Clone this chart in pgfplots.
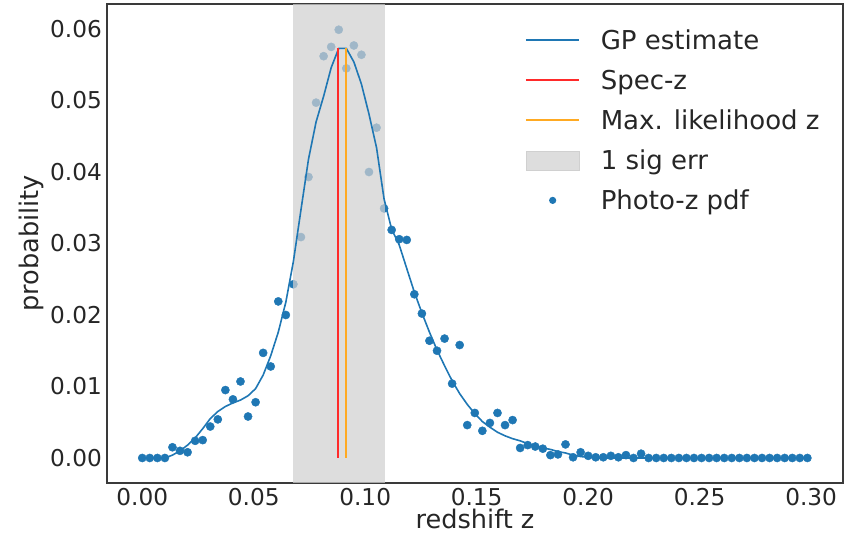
\documentclass[border=0pt]{standalone}
\usepackage{fontspec}
\setmainfont{DejaVu Sans}
\usepackage{pgfplots}
\pgfplotsset{compat=1.18}
\usepackage{pgfplotstable}
\definecolor{c0}{HTML}{1F77B4}
\definecolor{textc}{HTML}{262626}
\definecolor{framec}{HTML}{3A3A3A}
\definecolor{bandfill}{RGB}{208,208,208}
\definecolor{specred}{HTML}{FF2A2A}
\definecolor{mlorange}{HTML}{FFAA22}

\pgfplotstableread{
x y
0.00000 0
0.00339 0
0.00678 0
0.01017 0
0.01356 0.0015
0.01695 0.0010
0.02034 0.0008
0.02373 0.0024
0.02712 0.0025
0.03051 0.0044
0.03390 0.0054
0.03729 0.0095
0.04068 0.0082
0.04407 0.0107
0.04746 0.0058
0.05085 0.0078
0.05424 0.0147
0.05763 0.0128
0.06102 0.0219
0.06441 0.0200
0.06780 0.0243
0.07119 0.0309
0.07458 0.0393
0.07797 0.0497
0.08136 0.0562
0.08475 0.0575
0.08814 0.0599
0.09153 0.0545
0.09492 0.0577
0.09831 0.0564
0.10170 0.0400
0.10509 0.0462
0.10848 0.0349
0.11187 0.0319
0.11526 0.0306
0.11865 0.0305
0.12204 0.0229
0.12543 0.0202
0.12882 0.0164
0.13221 0.0150
0.13560 0.0167
0.13899 0.0104
0.14238 0.0158
0.14577 0.0046
0.14916 0.0063
0.15255 0.0038
0.15594 0.0049
0.15933 0.0063
0.16272 0.0046
0.16611 0.0053
0.16950 0.0014
0.17289 0.0018
0.17628 0.0016
0.17967 0.0013
0.18306 0.0004
0.18645 0.0005
0.18984 0.0019
0.19323 0.0001
0.19662 0.0008
0.20001 0.0003
0.20340 0.0001
0.20679 0.0001
0.21018 0.0003
0.21357 0.0001
0.21696 0.0004
0.22035 0.0000
0.22374 0.0006
0.22713 0
0.23052 0
0.23391 0
0.23730 0
0.24069 0
0.24408 0
0.24747 0
0.25086 0
0.25425 0
0.25764 0
0.26103 0
0.26442 0
0.26781 0
0.27120 0
0.27459 0
0.27798 0
0.28137 0
0.28476 0
0.28815 0
0.29154 0
0.29493 0
0.29832 0
}\photoz

\pgfplotstableread{
x y
0.00000 0
0.00339 0
0.00678 0
0.01017 0
0.01356 0.0004
0.01695 0.0010
0.02034 0.0018
0.02373 0.0028
0.02712 0.0041
0.03051 0.0055
0.03390 0.0065
0.03729 0.0072
0.04068 0.0077
0.04407 0.0081
0.04746 0.0087
0.05085 0.0097
0.05424 0.0116
0.05763 0.0143
0.06102 0.0176
0.06441 0.0218
0.06780 0.0275
0.07119 0.0347
0.07458 0.0418
0.07797 0.0470
0.08136 0.0506
0.08475 0.0546
0.08814 0.0573
0.09153 0.0573
0.09492 0.0554
0.09831 0.0523
0.10170 0.0481
0.10509 0.0434
0.10848 0.0362
0.11187 0.0320
0.11526 0.0298
0.11865 0.0265
0.12204 0.0232
0.12543 0.0203
0.12882 0.0176
0.13221 0.0151
0.13560 0.0129
0.13899 0.0108
0.14238 0.0090
0.14577 0.0075
0.14916 0.0062
0.15255 0.0051
0.15594 0.0043
0.15933 0.0036
0.16272 0.0031
0.16611 0.0027
0.16950 0.0024
0.17289 0.0020
0.17628 0.0017
0.17967 0.0014
0.18306 0.0012
0.18645 0.0009
0.18984 0.0007
0.19323 0.0004
0.19662 0.0002
0.20001 0.0001
0.20340 0
0.20679 0
0.21018 0
0.21357 0
0.21696 0
0.22035 0
0.22374 0
0.22713 0
0.23052 0
0.23391 0
0.23730 0
0.24069 0
0.24408 0
0.24747 0
0.25086 0
0.25425 0
0.25764 0
0.26103 0
0.26442 0
0.26781 0
0.27120 0
0.27459 0
0.27798 0
0.28137 0
0.28476 0
0.28815 0
0.29154 0
0.29493 0
0.29832 0
}\gpcurve

\begin{document}
\begin{tikzpicture}
\useasboundingbox (-107pt,-56pt) rectangle (742pt,483pt);
\begin{axis}[
  at={(0pt,0pt)}, anchor=south west,
  scale only axis, width=736pt, height=479pt,
  xmin=-0.0158, xmax=0.3143, ymin=-0.0035, ymax=0.0635,
  clip marker paths=true,
  xtick={0,0.05,0.1,0.15,0.2,0.25,0.3},
  ytick={0,0.01,0.02,0.03,0.04,0.05,0.06},
  scaled ticks=false,
  /pgf/number format/fixed,
  /pgf/number format/fixed zerofill,
  /pgf/number format/precision=2,
  /pgf/number format/assume math mode=true,
  major tick length=0pt,
  tick style={draw=none},
  axis line style={draw=framec, line width=1.4pt},
  tick label style={font=\fontsize{23.2}{28}\selectfont, text=textc},
  xticklabel style={inner sep=0pt, yshift=-5pt},
  yticklabel style={inner sep=0pt, xshift=-5pt},
  xlabel={redshift z},
  ylabel={probability},
  label style={font=\fontsize{25.6}{30}\selectfont, text=textc, inner sep=0pt},
  xlabel style={at={(axis description cs:0.5,-0.0745)}, anchor=center},
  ylabel style={at={(axis description cs:-0.1033,0.5)}, anchor=center},
  legend cell align=left,
  legend style={draw=none, fill=none, inner sep=0pt,
    at={(axis description cs:0.5679,0.9451)}, anchor=north west,
    font=\fontsize{26}{31}\selectfont, text=textc,
    nodes={inner sep=0pt, text height=19pt, text depth=0pt},
    row sep=21pt, column sep=21pt},
]
% legend entries
\addlegendimage{legend image code/.code={\draw[c0, line width=1.6pt] (0pt,0pt) -- (53pt,0pt);}}
\addlegendentry{GP estimate}
\addlegendimage{legend image code/.code={\draw[specred, line width=1.6pt] (0pt,0pt) -- (53pt,0pt);}}
\addlegendentry{Spec-z}
\addlegendimage{legend image code/.code={\draw[mlorange, line width=1.6pt] (0pt,0pt) -- (53pt,0pt);}}
\addlegendentry{Max. likelihood z}
\addlegendimage{legend image code/.code={\fill[bandfill, fill opacity=0.73] (0pt,-9.5pt) rectangle (53pt,9.5pt);}}
\addlegendentry{1 sig err}
\addlegendimage{legend image code/.code={\path[draw=none, fill=none] (0pt,0pt) -- (53pt,0pt); \fill[c0, draw=none] (26.7pt,0pt) circle (3.6pt);}}
\addlegendentry{Photo-z pdf}

% data
\addplot[forget plot, color=c0, only marks, mark=*, mark size=4.1pt, mark options={draw=none, fill=c0}] table[x=x,y=y] {\photoz};
\addplot[forget plot, draw=none, fill=bandfill, fill opacity=0.73] coordinates {(0.0675,-0.0035) (0.0675,0.0635) (0.1090,0.0635) (0.1090,-0.0035)} -- cycle;
\addplot[forget plot, c0, line width=1.6pt, line join=round, mark=none] table[x=x,y=y] {\gpcurve};
\addplot[forget plot, specred, line width=1.6pt, mark=none] coordinates {(0.0879,0) (0.0879,0.0573)};
\addplot[forget plot, mlorange, line width=1.6pt, mark=none] coordinates {(0.0913,0) (0.0913,0.0573)};
\end{axis}
\end{tikzpicture}
\end{document}
